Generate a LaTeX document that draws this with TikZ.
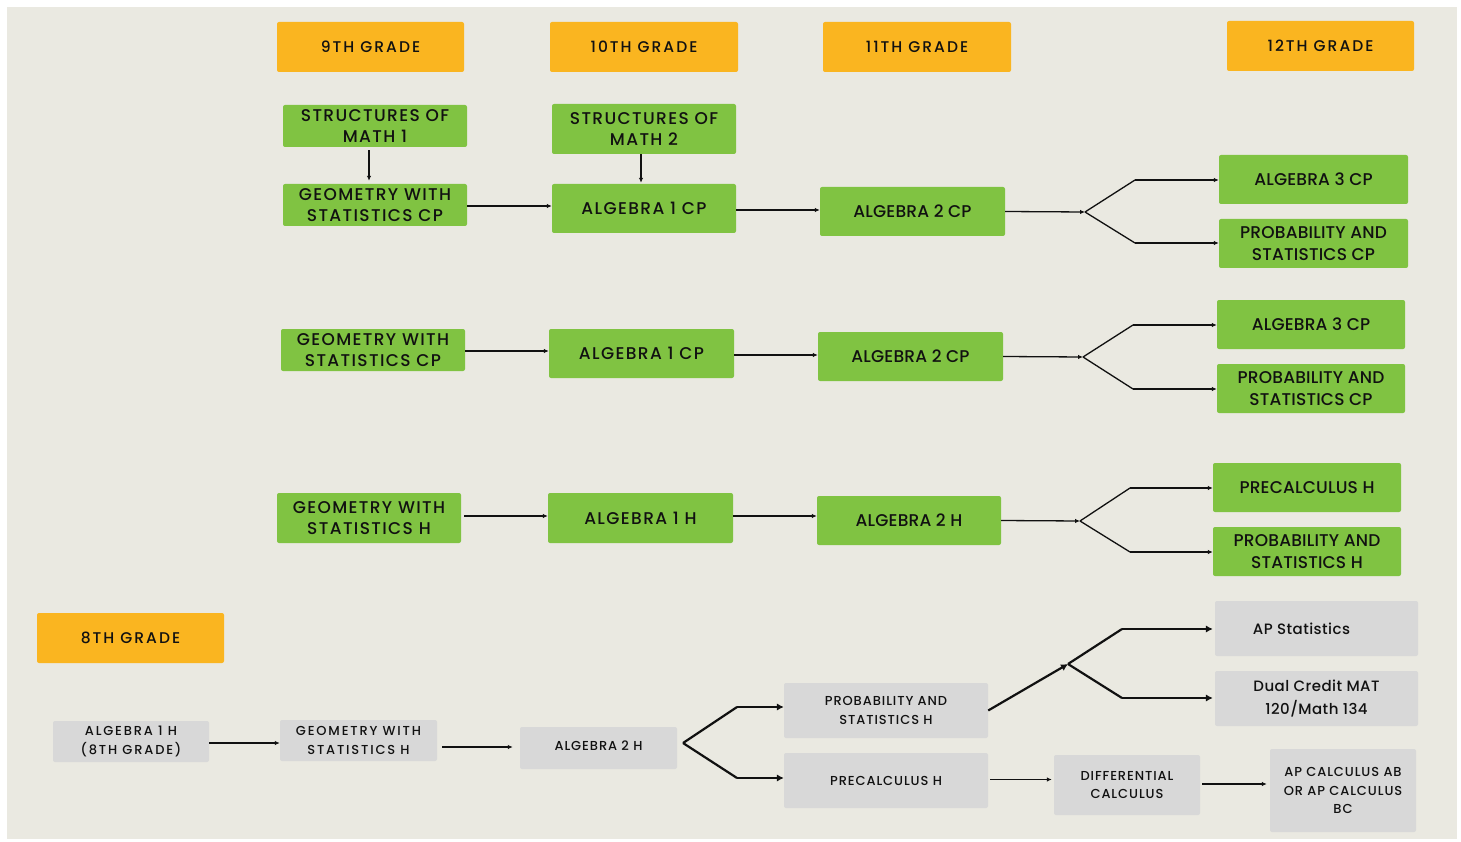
\documentclass[tikz,border=0pt]{standalone}
\usepackage{fontspec}
\setmainfont{Poppins}[UprightFont=* Medium]
\usetikzlibrary{arrows.meta}
\definecolor{bgc}{HTML}{EAE9E1}
\definecolor{org}{HTML}{FAB520}
\definecolor{grn}{HTML}{80C342}
\definecolor{gry}{HTML}{D8D8D8}
\definecolor{ink}{HTML}{111111}
\tikzset{
  area/.style n args={4}{minimum width={(#3)-(#1)}, minimum height={(#4)-(#2)},
     at={({((#1)+(#3))/2},{((#2)+(#4))/2})}},
  basebox/.style={inner sep=0pt, rounded corners=2pt, align=center, text=ink, anchor=center},
  hdr/.style={basebox, fill=org, font=\fontsize{15.5}{18}\selectfont\addfontfeatures{LetterSpace=13}},
  gbox/.style={basebox, fill=grn, font=\fontsize{17}{21.5}\selectfont\addfontfeatures{LetterSpace=8}},
  gtight/.style={gbox, font=\fontsize{17}{21.5}\selectfont\addfontfeatures{LetterSpace=1}},
  ybox/.style={basebox, fill=gry, font=\fontsize{13}{18.5}\selectfont\addfontfeatures{LetterSpace=7}},
  ywide/.style={ybox, font=\fontsize{13}{19}\selectfont\addfontfeatures{LetterSpace=14}},
  ybig/.style={ybox, font=\fontsize{15}{23}\selectfont\addfontfeatures{LetterSpace=3}},
  arr/.style={draw=ink, line width=1.3pt, -{Latex[length=5pt,width=4.5pt]}},
  line/.style={draw=ink, line width=1.3pt},
  barr/.style={draw=ink, line width=2.2pt, -{Latex[length=7pt,width=7.5pt]}},
  bline/.style={draw=ink, line width=2.2pt},
}
\begin{document}
\begin{tikzpicture}[x=1pt,y=-1pt]
\useasboundingbox (0,0) rectangle (1461,842);
\fill[white] (0,0) rectangle (1461,842);
\fill[bgc] (7,7) rectangle (1457,839);

% headers
\node[hdr, area={277}{22}{464}{72}] (h9) {9TH GRADE};
\node[hdr, area={550}{22}{738}{72}] (h10) {10TH GRADE};
\node[hdr, area={823}{22}{1011}{72}] (h11) {11TH GRADE};
\node[hdr, area={1227}{21}{1414}{71}] (h12) {12TH GRADE};
\node[hdr, area={37}{613}{224}{663}] (h8) {8TH GRADE};

% row 1
\node[gbox, area={283}{105}{467}{147}] (som1) {STRUCTURES OF\\MATH 1};
\node[gbox, area={283}{184}{467}{226}] (geo1) {GEOMETRY WITH\\STATISTICS CP};
\node[gbox, area={552}{104}{736}{154}] (som2) {STRUCTURES OF\\MATH 2};
\node[gbox, area={552}{184}{736}{233}] (alga) {ALGEBRA 1 CP};
\node[gtight, area={820}{187}{1005}{236}] (algb) {ALGEBRA 2 CP};
\node[gtight, area={1219}{155}{1408}{204}] (alg3a) {ALGEBRA 3 CP};
\node[gtight, area={1219}{219}{1408}{268}] (psa) {PROBABILITY AND\\STATISTICS CP};
\coordinate (b1) at (1085,212);
\coordinate (b1u) at (1135,180);
\coordinate (b1d) at (1135,243);
\draw[arr] ([xshift=-6pt,yshift=-3pt]som1.south) -- ([xshift=-6pt,yshift=3pt]geo1.north);
\draw[arr] ([xshift=-3pt]som2.south) -- ([xshift=-3pt,yshift=1pt]alga.north);
\draw[arr] ([yshift=-1pt]geo1.east) -- ([yshift=-1pt]geo1.east -| alga.west);
\draw[arr] ([yshift=-1.5pt]alga.east) -- ([yshift=-1.5pt]alga.east -| algb.west);
\draw[arr] (algb.east) -- (b1);
\draw[line] (b1) -- (b1u);
\draw[line] (b1) -- (b1d);
\draw[arr] (b1u) -- (b1u -| alg3a.west);
\draw[arr] (b1d) -- (b1d -| psa.west);

% row 2
\node[gbox, area={281}{329}{465}{371}] (geo2) {GEOMETRY WITH\\STATISTICS CP};
\node[gbox, area={549}{329}{734}{378}] (algc) {ALGEBRA 1 CP};
\node[gtight, area={818}{332}{1003}{381}] (algd) {ALGEBRA 2 CP};
\node[gtight, area={1217}{300}{1405}{349}] (alg3b) {ALGEBRA 3 CP};
\node[gtight, area={1217}{364}{1405}{413}] (psb) {PROBABILITY AND\\STATISTICS CP};
\coordinate (b2) at (1083,357);
\coordinate (b2u) at (1133,325);
\coordinate (b2d) at (1133,389);
\draw[arr] ([yshift=-1pt]geo2.east) -- ([yshift=-1pt]geo2.east -| algc.west);
\draw[arr] ([yshift=-1.5pt]algc.east) -- ([yshift=-1.5pt]algc.east -| algd.west);
\draw[arr] (algd.east) -- (b2);
\draw[line] (b2) -- (b2u);
\draw[line] (b2) -- (b2d);
\draw[arr] (b2u) -- (b2u -| alg3b.west);
\draw[arr] (b2d) -- (b2d -| psb.west);

% row 3
\node[gbox, area={277}{493}{461}{543}] (geo3) {GEOMETRY WITH\\STATISTICS H};
\node[gbox, area={548}{493}{733}{543}] (alge) {ALGEBRA 1 H};
\node[gtight, area={817}{496}{1001}{545}] (algf) {ALGEBRA 2 H};
\node[gtight, area={1213}{463}{1401}{512}] (pcc) {PRECALCULUS H};
\node[gtight, area={1213}{527}{1401}{576}] (psc) {PROBABILITY AND\\STATISTICS H};
\coordinate (b3) at (1080,521);
\coordinate (b3u) at (1130,488);
\coordinate (b3d) at (1130,552);
\draw[arr, shorten <=3pt] ([yshift=2pt]geo3.east) -- ([yshift=2pt]geo3.east -| alge.west);
\draw[arr] ([yshift=2pt]alge.east) -- ([yshift=2pt]alge.east -| algf.west);
\draw[arr] (algf.east) -- (b3);
\draw[line] (b3) -- (b3u);
\draw[line] (b3) -- (b3d);
\draw[arr] (b3u) -- (b3u -| pcc.west);
\draw[arr] (b3d) -- (b3d -| psc.west);

% bottom (8th grade track)
\node[ywide, area={53}{721}{209}{762}] (y1) {ALGEBRA 1 H\\(8TH GRADE)};
\node[ywide, area={280}{720}{437}{761}] (y2) {GEOMETRY WITH\\STATISTICS H};
\node[ybox, area={520}{727}{677}{769}] (y3) {\raisebox{5pt}{ALGEBRA 2 H}};
\node[ybox, area={784}{683}{988}{738}] (y4) {PROBABILITY AND\\STATISTICS H};
\node[ybox, area={784}{753}{988}{808}] (y5) {PRECALCULUS H};
\node[ybig, area={1215}{601}{1418}{656}] (y6) {AP Statistics\hspace*{30pt}};
\node[ybig, area={1215}{671}{1418}{726}] (y7) {Dual Credit MAT\\120/Math 134};
\node[ybox, area={1054}{755}{1200}{815}] (y8) {DIFFERENTIAL\\CALCULUS};
\node[ybox, area={1270}{749}{1416}{832}] (y9) {AP CALCULUS AB\\OR AP CALCULUS\\BC};

\draw[arr] ([yshift=-1.5pt]y1.east) -- ([yshift=-1.5pt]y1.east -| y2.west);
\draw[arr, shorten <=5pt, shorten >=7pt] ([yshift=-6.5pt]y2.east) -- ([yshift=-6.5pt]y2.east -| y3.west);
\coordinate (b4) at (683,743);
\coordinate (b4u) at (737,707);
\coordinate (b4d) at (737,778);
\draw[bline] (b4) -- (b4u);
\draw[bline] (b4) -- (b4d);
\draw[barr] (b4u) -- (b4u -| y4.west);
\draw[barr] (b4d) -- (b4d -| y5.west);
\coordinate (b5) at (1068,664);
\coordinate (b5u) at (1122,629);
\coordinate (b5d) at (1122,698);
\draw[barr] (y4.east) -- (b5);
\draw[bline] (b5) -- (b5u);
\draw[bline] (b5) -- (b5d);
\draw[barr] (b5u) -- ([xshift=-2pt]b5u -| y6.west);
\draw[barr] (b5d) -- ([xshift=-2pt]b5d -| y7.west);
\draw[arr, shorten <=2pt, shorten >=2pt] ([yshift=1pt]y5.east) -- ([yshift=1pt]y5.east -| y8.west);
\draw[arr, shorten <=2pt, shorten >=3pt] ([yshift=1pt]y8.east) -- ([yshift=1pt]y8.east -| y9.west);
\end{tikzpicture}
\end{document}
